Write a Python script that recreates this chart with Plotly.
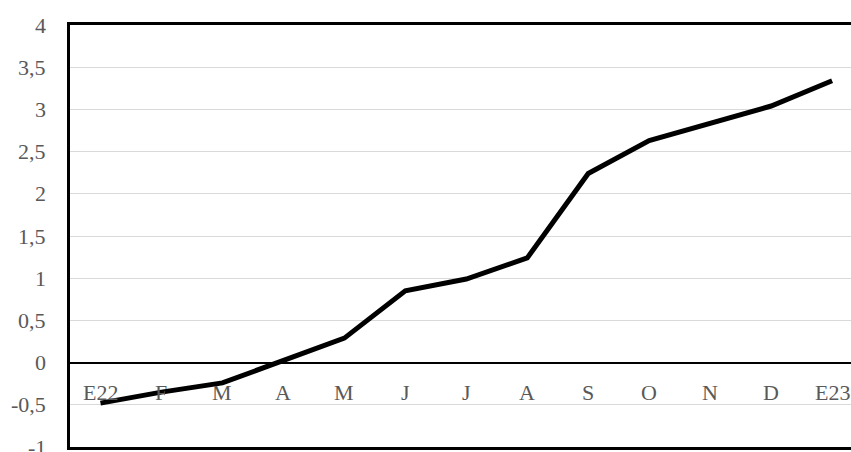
import plotly.graph_objects as go

# Monthly series, January 2022 to January 2023
months = ["E22", "F", "M", "A", "M", "J", "J", "A", "S", "O", "N", "D", "E23"]
values = [-0.48, -0.35, -0.24, 0.02, 0.29, 0.85, 0.99, 1.24, 2.24, 2.63, 2.83, 3.04, 3.34]
y_ticks = [-1, -0.5, 0, 0.5, 1, 1.5, 2, 2.5, 3, 3.5, 4]
y_tick_text = ["-1", "-0,5", "0", "0,5", "1", "1,5", "2", "2,5", "3", "3,5", "4"]

FONT = "Liberation Serif"
FONT_SIZE = 22
LABEL_GREY = "#595959"

idx = list(range(len(months)))

fig = go.Figure()
fig.add_trace(go.Scatter(
    x=idx, y=values, mode="lines",
    line=dict(color="black", width=5),
    hoverinfo="skip", showlegend=False,
))

# Category labels sit just under the zero line
for i, m in zip(idx, months):
    fig.add_annotation(
        x=i, y=0, text=m, showarrow=False, yanchor="middle", yshift=-30,
        font=dict(family=FONT, size=FONT_SIZE, color=LABEL_GREY),
    )

# Value labels to the left of the frame (the bottom one may run off the page)
for v, t in zip(y_ticks, y_tick_text):
    fig.add_annotation(
        xref="paper", x=0, y=v, text=t, showarrow=False,
        xanchor="right", yanchor="middle", xshift=-22,
        font=dict(family=FONT, size=FONT_SIZE, color=LABEL_GREY),
    )

fig.update_layout(
    width=851, height=452,
    margin=dict(l=70, r=0, t=25, b=5),
    paper_bgcolor="white", plot_bgcolor="white",
    xaxis=dict(
        range=[-0.5, 12.31], showgrid=False, showticklabels=False,
        zeroline=False, showline=True, mirror=True,
        linecolor="black", linewidth=2.5,
    ),
    yaxis=dict(
        range=[-1, 4], tickvals=y_ticks, showticklabels=False,
        showgrid=True, gridcolor="#d9d9d9", gridwidth=1.3,
        zeroline=True, zerolinecolor="black", zerolinewidth=2,
        showline=True, linecolor="black", linewidth=2.5, ticks="",
    ),
)

fig.write_html("out.html")
